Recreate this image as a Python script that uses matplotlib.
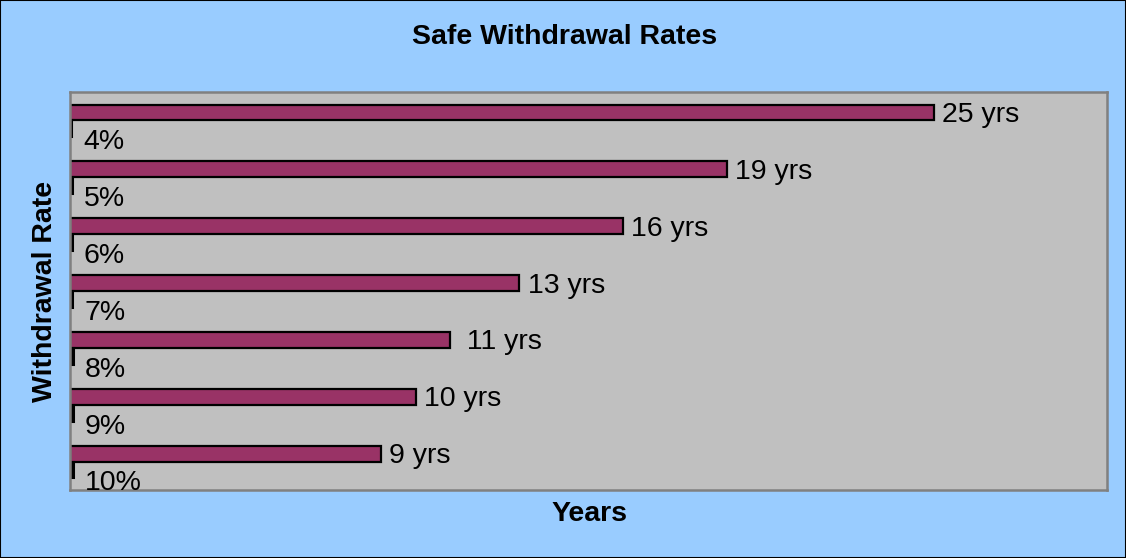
import matplotlib
matplotlib.use('Agg')
import numpy
import matplotlib.pyplot as plt
from matplotlib.patches import Rectangle

# Chart data
rates = ['4%', '5%', '6%', '7%', '8%', '9%', '10%']
rate_values = [0.04, 0.05, 0.06, 0.07, 0.08, 0.09, 0.10]
years = [25, 19, 16, 13, 11, 10, 9]
year_labels = ['25 yrs', '19 yrs', '16 yrs', '13 yrs', ' 11 yrs', '10 yrs', '9 yrs']

plt.rcParams['font.family'] = ['Liberation Sans', 'DejaVu Sans']

fig = plt.figure(figsize=(11.26, 5.58), dpi=100, facecolor='#99CCFF')
fig.patches.append(Rectangle((0, 0), 1, 1, transform=fig.transFigure,
                             fill=False, edgecolor='black', linewidth=1.5))

ax = fig.add_axes([70 / 1126, 1 - 490 / 558, 1037 / 1126, 398 / 558])
ax.set_facecolor('#C0C0C0')

pos = numpy.arange(len(rates))
h = 0.28

ax.barh(pos - 0.14, years, height=h, color='#993366', edgecolor='black', linewidth=1.6)
ax.barh(pos + 0.14, rate_values, height=h, color='#9999FF', edgecolor='black', linewidth=2.2)

for i in range(len(rates)):
    ax.annotate(year_labels[i], (years[i], pos[i] - 0.14), xytext=(6, -1.8),
                textcoords='offset points', va='center', ha='left', fontsize=20.5)
    ax.annotate(rates[i], (rate_values[i], pos[i] + 0.14), xytext=(8.5, -10),
                textcoords='offset points', va='center', ha='left', fontsize=20.5)

ax.set_xlim(0, 30)
ax.set_ylim(len(rates) - 0.5, -0.5)
ax.set_xticks([])
ax.set_yticks([])
for s in ax.spines.values():
    s.set_color('#808080')
    s.set_linewidth(1.8)

fig.text(565 / 1126, 1 - 37 / 558, 'Safe Withdrawal Rates', ha='center', va='center',
         fontsize=20.5, fontweight='bold')
fig.text(589 / 1126, 1 - 514 / 558, 'Years', ha='center', va='center',
         fontsize=20.5, fontweight='bold')
fig.text(45 / 1126, 1 - 291 / 558, 'Withdrawal Rate', ha='center', va='center',
         rotation=90, fontsize=20.5, fontweight='bold')

fig.savefig('out.png', dpi=100, facecolor=fig.get_facecolor())
